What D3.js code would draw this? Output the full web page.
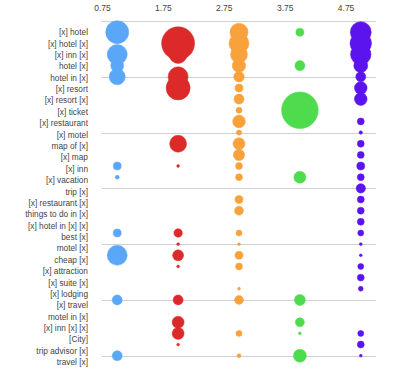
<!DOCTYPE html>
<html>
<head>
<meta charset="utf-8">
<script src="https://cdn.jsdelivr.net/npm/d3@7"></script>
<style>
  body { margin: 0; background: #fff; }
  text { font-family: Arial, "Liberation Sans", sans-serif; }
</style>
</head>
<body>
<script>
// keyword rows, top to bottom (row 1 .. 30)
var keywords = ["[x] hotel", "[x] hotel [x]", "[x] inn [x]", "hotel [x]", "hotel in [x]",
  "[x] resort", "[x] resort [x]", "[x] ticket", "[x] restaurant", "[x] motel",
  "map of [x]", "[x] map", "[x] inn", "[x] vacation", "trip [x]",
  "[x] restaurant [x]", "things to do in [x]", "[x] hotel in [x] [x]", "best [x]", "motel [x]",
  "cheap [x]", "[x] attraction", "[x] suite [x]", "[x] lodging", "[x] travel",
  "motel in [x]", "[x] inn [x] [x]", "[City]", "trip advisor [x]", "travel [x]"];

var xTicks = [0.75, 1.75, 2.75, 3.75, 4.75];
var yGrid = [0, 5, 10, 15, 20, 25, 30];

// bubble sizes per row (null = no bubble), one array per column
var seriesBlue = [132, null, 100, 42, 64, null, null, null, null, null,
  null, null, 16, 4, null, null, null, null, 16, null,
  100, null, null, null, 25, null, null, null, null, 25];
var seriesRed = [null, 272, 81, null, 100, 144, null, null, null, null,
  72, null, 2, null, null, null, null, null, 18, 2,
  30, 2, null, null, 25, null, 36, 36, 2, null];
var seriesOrange = [81, 100, 72, 45, 28, 16, 25, 9, 40, 7,
  36, 32, 12, 12, null, 16, 20, null, 9, 2,
  16, 12, null, 2, 20, null, null, 9, null, 4];
var seriesGreen = [16, null, null, 25, null, null, null, 335, null, null,
  null, null, null, 36, null, null, null, null, null, null,
  null, null, null, null, 30, null, 20, 2, null, 42];
var seriesPurple = [110, 115, 105, 49, 25, 40, 40, null, 12, 3,
  12, 12, 16, 12, 22, 12, 12, 12, 9, 2,
  2, 9, 12, 6, null, null, null, 9, 12, 2];

var series = [
  { x: 1, color: "#5aa7f8", values: seriesBlue },
  { x: 2, color: "#dc2a2a", values: seriesRed },
  { x: 3, color: "#f9a23c", values: seriesOrange },
  { x: 4, color: "#4edc4e", values: seriesGreen },
  { x: 5, color: "#5c14ee", values: seriesPurple }
];

var w = 400, h = 375;

var svg = d3.select("body").append("svg")
  .attr("width", w)
  .attr("height", h);

var x = d3.scaleLinear().domain([0.75, 5.25]).range([102, 376]);
var y = d3.scaleLinear().domain([0, 30]).range([21, 355.7]);
var labelY = d3.scaleLinear().domain([1, 30]).range([32.3, 362.3]);
var r = d3.scaleSqrt().domain([0, 342]).range([0, 18.5]);

// horizontal gridlines
svg.selectAll(".grid")
  .data(yGrid)
  .enter()
  .append("line")
  .attr("class", "grid")
  .attr("x1", x.range()[0])
  .attr("x2", x.range()[1])
  .attr("y1", function(d){ return Math.round(y(d)) + 0.5; })
  .attr("y2", function(d){ return Math.round(y(d)) + 0.5; })
  .style("stroke", "#d0d0d0")
  .style("stroke-width", 1);

// top axis labels
var xAxis = d3.axisTop(x).tickValues(xTicks).tickSize(0).tickPadding(0).tickFormat(d3.format(".2f"));
var axis = svg.append("g")
  .attr("transform", "translate(0, 11)")
  .call(xAxis);
axis.select(".domain").remove();
axis.selectAll("text")
  .style("font-size", "8.5px")
  .style("fill", "#444");

// keyword labels
svg.selectAll(".kw")
  .data(keywords)
  .enter()
  .append("text")
  .attr("class", "kw")
  .attr("x", 88)
  .attr("y", function(d, i){ return labelY(i + 1); })
  .attr("dy", "0.35em")
  .attr("text-anchor", "end")
  .style("font-size", "8.3px")
  .style("fill", "#444")
  .text(function(d){ return d; });

// flatten bubbles, big ones first so small ones stay on top
var bubbles = [];
series.forEach(function(s){
  s.values.forEach(function(v, i){
    if (v != null) bubbles.push({ x: s.x, row: i + 1, size: v, color: s.color });
  });
});
bubbles.sort(function(a, b){ return b.size - a.size; });

svg.selectAll(".bubble")
  .data(bubbles)
  .enter()
  .append("circle")
  .attr("class", "bubble")
  .attr("cx", function(d){ return x(d.x); })
  .attr("cy", function(d){ return y(d.row); })
  .attr("r", function(d){ return r(d.size); })
  .style("fill", function(d){ return d.color; })
  .style("stroke", function(d){ return d.color; })
  .style("stroke-width", 0.5);
</script>
</body>
</html>
